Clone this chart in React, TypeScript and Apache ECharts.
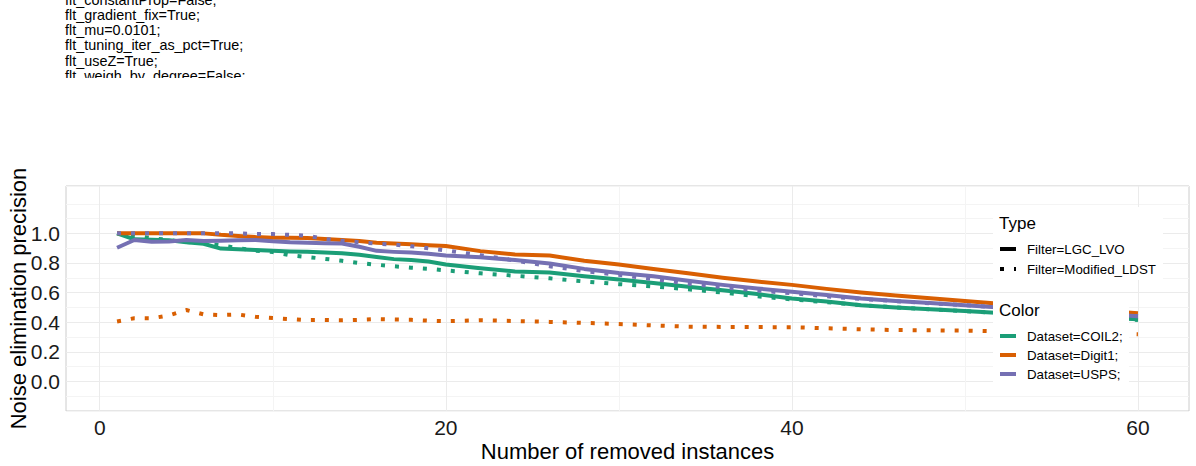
import React, { useEffect, useRef } from 'react';
import * as echarts from 'echarts';

// ---------- data ----------
const xValues = [1, 2, 3, 4, 5, 6, 7, 8, 9, 10, 11, 12, 13, 14, 15, 16, 17, 18, 19, 20,
  22, 24, 26, 28, 30, 32, 34, 36, 38, 40, 42, 44, 46, 48, 50, 52, 54, 56, 58, 60];

const coil2Lgc = [1.0, 0.96, 0.957, 0.953, 0.94, 0.93, 0.897, 0.893, 0.888, 0.882, 0.878, 0.875, 0.87, 0.865, 0.855, 0.84, 0.826, 0.82, 0.81, 0.79,
  0.765, 0.743, 0.735, 0.71, 0.688, 0.665, 0.64, 0.615, 0.59, 0.56, 0.54, 0.515, 0.5, 0.487, 0.475, 0.462, 0.452, 0.44, 0.43, 0.42];
const coil2Ldst = [1.0, 0.982, 0.968, 0.955, 0.942, 0.935, 0.92, 0.9, 0.883, 0.874, 0.852, 0.84, 0.828, 0.815, 0.8, 0.788, 0.778, 0.768, 0.761, 0.75,
  0.73, 0.714, 0.696, 0.675, 0.657, 0.642, 0.622, 0.6, 0.575, 0.554, 0.535, 0.515, 0.5, 0.487, 0.475, 0.462, 0.452, 0.44, 0.43, 0.415];
const digit1Lgc = [1.0, 1.0, 1.0, 1.0, 1.0, 1.0, 0.99, 0.983, 0.975, 0.971, 0.971, 0.968, 0.962, 0.955, 0.948, 0.937, 0.932, 0.926, 0.92, 0.914,
  0.88, 0.857, 0.85, 0.815, 0.79, 0.76, 0.73, 0.7, 0.675, 0.652, 0.625, 0.6, 0.58, 0.562, 0.543, 0.525, 0.51, 0.495, 0.478, 0.46];
const digit1Ldst = [0.405, 0.427, 0.426, 0.446, 0.482, 0.453, 0.448, 0.452, 0.436, 0.428, 0.421, 0.414, 0.415, 0.413, 0.416, 0.421, 0.418, 0.416, 0.41, 0.407,
  0.413, 0.408, 0.402, 0.395, 0.388, 0.378, 0.37, 0.368, 0.367, 0.366, 0.359, 0.352, 0.347, 0.345, 0.343, 0.338, 0.333, 0.328, 0.323, 0.318];
const uspsLgc = [0.903, 0.955, 0.943, 0.945, 0.955, 0.948, 0.95, 0.953, 0.955, 0.946, 0.94, 0.937, 0.934, 0.932, 0.91, 0.882, 0.875, 0.87, 0.862, 0.851,
  0.838, 0.82, 0.797, 0.76, 0.732, 0.71, 0.68, 0.652, 0.628, 0.605, 0.583, 0.56, 0.543, 0.53, 0.515, 0.5, 0.485, 0.47, 0.455, 0.44];
const uspsLdst = [1.0, 1.0, 1.0, 1.0, 1.0, 1.0, 1.0, 1.0, 0.995, 0.995, 0.99, 0.985, 0.962, 0.95, 0.94, 0.93, 0.925, 0.913, 0.9, 0.885,
  0.852, 0.817, 0.778, 0.745, 0.72, 0.69, 0.66, 0.637, 0.614, 0.596, 0.575, 0.557, 0.542, 0.528, 0.515, 0.5, 0.485, 0.47, 0.455, 0.44];

const xTickLabels = [0, 20, 40, 60];
const xGridValues = [0, 10, 20, 30, 40, 50, 60];
const yTickLabels = [0, 0.2, 0.4, 0.6, 0.8, 1.0];

const headerLines = [
  'flt_constantProp=False;',
  'flt_gradient_fix=True;',
  'flt_mu=0.0101;',
  'flt_tuning_iter_as_pct=True;',
  'flt_useZ=True;',
  'flt_weigh_by_degree=False;',
];

const typeTitle = 'Type';
const typeLabels = ['Filter=LGC_LVO', 'Filter=Modified_LDST'];
const colorTitle = 'Color';
const colorLabels = ['Dataset=COIL2;', 'Dataset=Digit1;', 'Dataset=USPS;'];
const xTitle = 'Number of removed instances';
const yTitle = 'Noise elimination precision';

// ---------- styles ----------
const GREEN = '#1b9e77';
const ORANGE = '#d95f02';
const PURPLE = '#7570b3';
const FONT = '"Liberation Sans", Arial, Helvetica, sans-serif';
const DOT = [4, 10];

export default function App() {
  const ref = useRef<HTMLDivElement>(null);

  useEffect(() => {
    if (!ref.current) return;
    const chart = echarts.init(ref.current, null, { renderer: 'svg' });

    const mk = (name: string, vals: number[], color: string, dotted: boolean, z: number) => ({
      name,
      type: 'line',
      data: xValues.map((x, i) => [x, vals[i]]),
      showSymbol: false,
      symbol: 'none',
      z,
      lineStyle: { color, width: 4, type: dotted ? DOT : 'solid', cap: 'butt', join: 'round' },
      silent: true,
    });

    const yColors: string[] = [];
    for (let k = 0; k <= 16; k++) {
      const v = Math.round((-0.2 + 0.1 * k) * 10);
      if (v === 13) yColors.push('rgba(0,0,0,0)');
      else if (v >= 0 && v <= 10 && v % 2 === 0) yColors.push('#ebebeb');
      else yColors.push('#f4f4f4');
    }

    const graphics: any[] = [];
    headerLines.forEach((t, i) => {
      graphics.push({
        type: 'text', x: 65, y: -0.5 + i * 15.3, z: 10,
        style: { text: t, font: `14.4px ${FONT}`, fill: '#000', verticalAlign: 'middle', align: 'left' },
      });
    });
    graphics.push({ type: 'rect', shape: { x: 0, y: 78, width: 400, height: 40 }, style: { fill: '#fff' }, z: 11 });

    // axis titles
    graphics.push({
      type: 'text', x: 627.5, y: 451, z: 10,
      style: { text: xTitle, font: `22px ${FONT}`, fill: '#000', align: 'center', verticalAlign: 'middle' },
    });
    graphics.push({
      type: 'text', x: 18, y: 298.5, rotation: Math.PI / 2, z: 10,
      style: { text: yTitle, font: `22px ${FONT}`, fill: '#000', align: 'center', verticalAlign: 'middle' },
    });

    // legend: Type
    graphics.push({ type: 'rect', shape: { x: 993, y: 207, width: 170, height: 73 }, style: { fill: '#fff' }, z: 20 });
    graphics.push({ type: 'text', x: 999, y: 223, z: 21, style: { text: typeTitle, font: `17px ${FONT}`, fill: '#000', verticalAlign: 'middle' } });
    typeLabels.forEach((t, i) => {
      const y = 249 + i * 20;
      graphics.push({
        type: 'line', z: 21, shape: { x1: 1000, y1: y, x2: 1016, y2: y },
        style: { stroke: '#000', lineWidth: 4, lineDash: i === 1 ? DOT : null, lineCap: 'butt' },
      });
      graphics.push({ type: 'text', x: 1027, y, z: 21, style: { text: t, font: `13.3px ${FONT}`, fill: '#000', verticalAlign: 'middle' } });
    });

    // legend: Color
    graphics.push({ type: 'rect', shape: { x: 993, y: 296, width: 136, height: 86 }, style: { fill: '#fff' }, z: 20 });
    graphics.push({ type: 'text', x: 999, y: 310, z: 21, style: { text: colorTitle, font: `17px ${FONT}`, fill: '#000', verticalAlign: 'middle' } });
    const legendColors = [GREEN, ORANGE, PURPLE];
    colorLabels.forEach((t, i) => {
      const y = 336 + i * 19;
      graphics.push({
        type: 'line', z: 21, shape: { x1: 1000, y1: y, x2: 1016, y2: y },
        style: { stroke: legendColors[i], lineWidth: 4, lineCap: 'butt' },
      });
      graphics.push({ type: 'text', x: 1027, y, z: 21, style: { text: t, font: `13.3px ${FONT}`, fill: '#000', verticalAlign: 'middle' } });
    });

    chart.setOption({
      animation: false,
      backgroundColor: '#fff',
      grid: {
        left: 66, right: 7, top: 186, bottom: 55,
        show: true, borderColor: '#cccccc', borderWidth: 1, backgroundColor: '#fff',
        outerBoundsMode: 'none',
      },
      xAxis: {
        type: 'value', min: -1.95, max: 62.95,
        axisLine: { show: false },
        axisTick: { show: false, customValues: xGridValues },
        axisLabel: {
          customValues: xTickLabels, margin: 6, fontSize: 21, fontFamily: FONT, color: '#1a1a1a',
          formatter: (v: number) => String(Math.round(v)),
        },
        splitLine: { show: true, lineStyle: { color: ['#ebebeb', '#f4f4f4'], width: 1 } },
      },
      yAxis: {
        type: 'value', min: -0.2, max: 1.32, interval: 0.1,
        axisLine: { show: false },
        axisTick: { show: false },
        axisLabel: {
          margin: 6, fontSize: 21, fontFamily: FONT, color: '#1a1a1a', showMaxLabel: false,
          formatter: (v: number) => {
            const hit = yTickLabels.find((t) => Math.abs(t - v) < 1e-6);
            return hit === undefined ? '' : hit.toFixed(1);
          },
        },
        splitLine: { show: true, lineStyle: { color: yColors, width: 1 } },
      },
      series: [
        mk('COIL2 LGC', coil2Lgc, GREEN, false, 2),
        mk('COIL2 LDST', coil2Ldst, GREEN, true, 2),
        mk('Digit1 LGC', digit1Lgc, ORANGE, false, 2),
        mk('Digit1 LDST', digit1Ldst, ORANGE, true, 2),
        mk('USPS LGC', uspsLgc, PURPLE, false, 2),
        mk('USPS LDST', uspsLdst, PURPLE, true, 2),
      ],
      graphic: graphics,
    });

    return () => chart.dispose();
  }, []);

  return (
    <div
      ref={ref}
      style={{ position: 'fixed', left: 0, top: 0, width: 1196, height: 466, background: '#fff' }}
    />
  );
}
